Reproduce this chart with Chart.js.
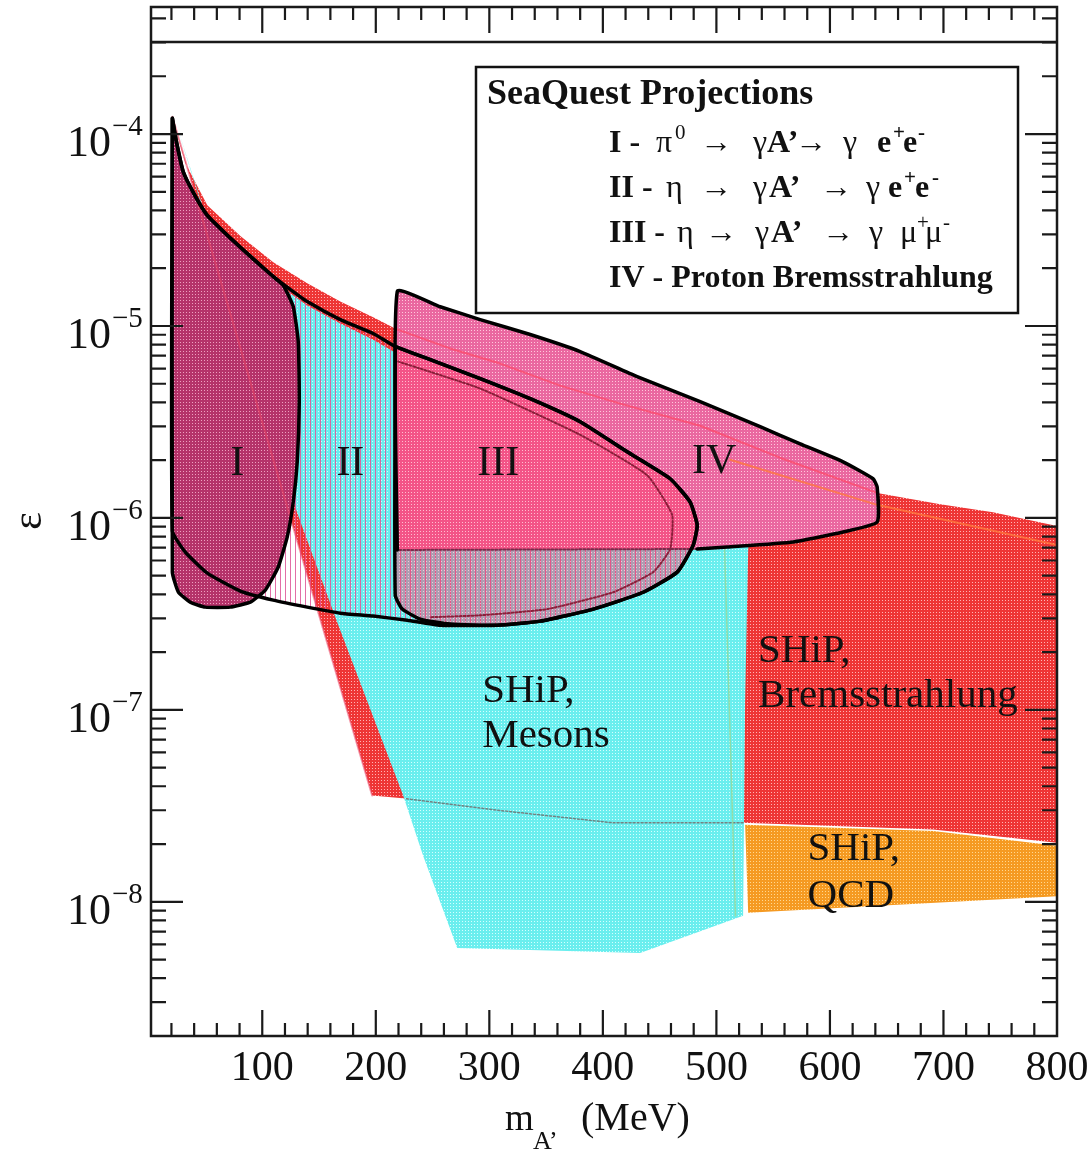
<!DOCTYPE html>
<html>
<head>
<meta charset="utf-8">
<script src="https://cdn.jsdelivr.net/npm/chart.js@4.4.1/dist/chart.umd.min.js"></script>
<style>
html,body{margin:0;padding:0;background:#fff;}
#wrap{width:1092px;height:1153px;}
</style>
</head>
<body>
<div id="wrap"><canvas id="c" width="1092" height="1153"></canvas></div>
<script>
// ---------------- data (x: m_A' in MeV, y: epsilon) ----------------
const brTop = [[20.8,1.23e-4],[32.2,7.06e-5],[51.6,4.26e-5],[80.7,2.94e-5],[109.7,2.15e-5],[139.6,1.67e-5],[168.7,1.34e-5],[197.7,1.11e-5],[218.8,9.6e-6],[265.4,7.64e-6],[309.6,6.37e-6],[362.4,4.89e-6],[415.3,3.94e-6],[485.7,3.02e-6],[556,2.06e-6],[641.6,1.35e-6],[697.2,1.18e-6],[743.6,1.07e-6],[800,9.08e-7]];
const brBottom = [[800,2.03e-8],[690.9,2.38e-8],[523.5,2.58e-8],[409,2.58e-8],[309.6,2.99e-8],[225.9,3.45e-8],[196.8,3.58e-8]];
const mesons = [[26.1,1.04e-4],[51.6,3.52e-5],[80.7,2.39e-5],[109.7,1.71e-5],[139.6,1.28e-5],[168.7,1.03e-5],[197.7,8.49e-6],[218.8,7.17e-6],[265.4,5.64e-6],[309.6,4.55e-6],[362.4,3.49e-6],[415.3,2.55e-6],[468.1,1.91e-6],[529.7,1.37e-6],[528,6.81e-7],[525.3,1.09e-7],[523.5,8.45e-9],[432.8,5.42e-9],[271.7,5.75e-9],[241.7,1.74e-8],[224.1,3.58e-8],[166.0,2.86e-7],[130.8,1.06e-6]];
const qcd = [[525.3,2.52e-8],[690.9,2.34e-8],[800,1.96e-8],[800,1.07e-8],[528,8.77e-9]];
const regionI = [[20.8,1.21e-4],[24.3,9.19e-5],[30.5,6.34e-5],[41.0,4.75e-5],[51.6,3.77e-5],[67.4,3.04e-5],[80.7,2.57e-5],[96.5,2.12e-5],[109.7,1.81e-5],[118.5,1.63e-5],[127.3,1.26e-5],[131.7,8.30e-6],[132.6,4.04e-6],[130.8,1.96e-6],[127.3,1.21e-6],[122.0,7.96e-7],[114.1,5.55e-7],[102.7,4.21e-7],[89.5,3.64e-7],[71.8,3.43e-7],[49.8,3.43e-7],[36.6,3.64e-7],[26.1,4.11e-7],[20.8,5.22e-7]];
const regionIITop = [[20.8,1.21e-4],[24.3,9.19e-5],[30.5,6.34e-5],[41.0,4.75e-5],[51.6,3.77e-5],[67.4,3.04e-5],[80.7,2.57e-5],[96.5,2.12e-5],[109.7,1.81e-5],[124.7,1.55e-5],[139.6,1.34e-5],[168.7,1.08e-5],[197.7,9.14e-6],[217.1,7.82e-6]];
const regionIII = [[217.1,7.82e-6],[248.0,6.68e-6],[292.0,5.32e-6],[336.0,4.18e-6],[380.0,3.17e-6],[421.4,2.21e-6],[459.3,1.60e-6],[476.9,1.21e-6],[483.1,9.18e-7],[479.6,7.22e-7],[465.5,5.22e-7],[435.6,4.10e-7],[391.6,3.35e-7],[344.9,2.90e-7],[307.0,2.76e-7],[265.6,2.80e-7],[239.1,2.97e-7],[223.3,3.35e-7],[217.1,3.96e-7]];
const regionIIBottom = [[256.8,2.76e-7],[227.7,2.93e-7],[197.7,3.08e-7],[168.7,3.19e-7],[139.6,3.43e-7],[109.7,3.73e-7],[80.7,4.16e-7],[51.6,5.16e-7],[32.2,6.64e-7],[20.8,8.55e-7]];
const regionIV = [[218.9,6.81e-7],[218.9,1.51e-5],[256.7,1.26e-5],[291.9,1.08e-5],[336.0,9.03e-6],[380.0,7.36e-6],[430.2,5.45e-6],[485.7,4.04e-6],[538.5,2.99e-6],[573.8,2.43e-6],[611.6,1.96e-6],[638.0,1.60e-6],[641.6,1.45e-6],[641.6,9.53e-7],[611.6,8.45e-7],[567.6,7.50e-7],[509.5,7.06e-7],[483.1,6.89e-7]];
const regionIIIInner = [[219.7,6.53e-6],[292.0,4.72e-6],[380.0,2.71e-6],[439.0,1.67e-6],[461.0,1.04e-6],[459.3,6.89e-7],[444.3,5.22e-7],[409.1,4.10e-7],[351.0,3.35e-7],[292.0,3.11e-7],[248.0,3.04e-7]];
const orangeTrace = [[512.1,2.01e-6],[641.6,1.17e-6],[800,7.23e-7]];
const greenTrace = [[505.4,1.58e-6],[516.8,8.45e-9]];

const xTickLabels = [100,200,300,400,500,600,700,800];
const yTickExponents = [-8,-7,-6,-5,-4];
const topRuleValue = 3e-4;

// ---------------- helpers ----------------
const canvas = document.getElementById('c');
const cctx = canvas.getContext('2d');
const pts = a => a.map(p => ({x:p[0], y:p[1]}));
const closeLoop = a => a.concat([a[0]]);
function dots(base, dot, n){
  n = n || 3;
  const t = document.createElement('canvas'); t.width = n; t.height = n;
  const g = t.getContext('2d');
  g.fillStyle = base; g.fillRect(0,0,n,n);
  g.fillStyle = dot; g.fillRect(0,0,1,1);
  return cctx.createPattern(t,'repeat');
}
function hatch(color, n){
  const t = document.createElement('canvas'); t.width = n; t.height = 2;
  const g = t.getContext('2d');
  g.fillStyle = color; g.fillRect(0,0,1,2);
  return cctx.createPattern(t,'repeat');
}

const bremsShape = brTop.concat(brBottom);
const regionII = regionIITop.concat(regionIII.slice(1,15), regionIIBottom);

function fillDs(label, arr, bg, order, tension){
  return {label, data: pts(arr), fill:'shape', backgroundColor:bg, borderColor:'rgba(0,0,0,0)', borderWidth:0, pointRadius:0, tension: tension||0, order};
}
function lineDs(label, arr, color, width, order, dash, tension){
  return {label, data: pts(arr), fill:false, backgroundColor:'rgba(0,0,0,0)', borderColor:color, borderWidth:width, borderDash: dash||[], pointRadius:0, tension: tension||0, order, borderJoinStyle:'round', borderCapStyle:'round'};
}

const T = 0.15;
const datasets = [
  fillDs('SHiP Bremsstrahlung', bremsShape, dots('#ee3535','#ffb4b4'), 100),
  fillDs('SHiP QCD', qcd, dots('#f59a22','#ffd890'), 99),
  fillDs('SHiP Mesons', mesons, dots('#6aeeee','#d4ffff'), 98),
  lineDs('brems lower edge', brBottom.slice(2,6), 'rgba(110,110,110,0.85)', 1.5, 97, [2,2]),
  lineDs('trace green', greenTrace, 'rgba(150,215,150,0.8)', 1.5, 96),
  fillDs('II', regionII, hatch('rgba(222,85,150,0.85)', 5), 95, T),
  fillDs('I', regionI, dots('#b5336a','#eea0c0'), 94, T),
  lineDs('brems left edge', [brTop[0], brBottom[brBottom.length-1]], 'rgba(235,70,100,0.55)', 2, 93),
  fillDs('IV', regionIV, dots('#ea68a0','#ffc8dc'), 92, T),
  lineDs('brems top trace', brTop.slice(8,16), 'rgba(255,70,100,0.7)', 2, 91),
  lineDs('trace orange', orangeTrace, 'rgba(255,120,60,0.8)', 2, 90),
  fillDs('III', regionIII, dots('rgba(255,60,105,0.45)','rgba(255,225,235,0.6)'), 89, T),
  lineDs('III inner', regionIIIInner, '#8a1f3a', 2, 88, [2,2], T),
  lineDs('IV lower', [regionIV[regionIV.length-1], regionIV[0]], '#7a2a4a', 2, 87, [2,2]),
  lineDs('II outline', closeLoop(regionII), '#000', 3.5, 80, null, T),
  lineDs('I outline', closeLoop(regionI), '#000', 3.5, 79, null, T),
  lineDs('III outline', closeLoop(regionIII), '#000', 3.5, 78, null, T),
  lineDs('IV outline', regionIV, '#000', 3.5, 77, null, T)
];

const textLabels = [
  {t:'I', x:78, y:1.67e-6, align:'center', size:42},
  {t:'II', x:177.6, y:1.67e-6, align:'center', size:42},
  {t:'III', x:307.8, y:1.67e-6, align:'center', size:42},
  {t:'IV', x:498, y:1.71e-6, align:'center', size:42},
  {t:'SHiP,', x:293.7, y:1.10e-7, align:'left', size:41},
  {t:'Mesons', x:293.7, y:6.40e-8, align:'left', size:41},
  {t:'SHiP,', x:536.7, y:1.775e-7, align:'left', size:41},
  {t:'Bremsstrahlung', x:536.7, y:1.035e-7, align:'left', size:41},
  {t:'SHiP,', x:580.3, y:1.65e-8, align:'left', size:41},
  {t:'QCD', x:580.3, y:9.4e-9, align:'left', size:41}
];

const SERIF = '"Liberation Serif", "Times New Roman", serif';
const B32 = 'bold 32px ' + SERIF, R32 = '32px ' + SERIF, BS = 'bold 21px ' + SERIF, RS = '21px ' + SERIF;
const legendTitle = {t:'SeaQuest Projections', x:487, y:104};
const legendLines = [
  {y:152, runs:[['I -',609,B32],['\u03C0',656,R32],['0',675,RS,-13],['\u2192',700,R32],['\u03B3',753,R32],['A\u2019',767,B32],['\u2192',795,R32],['\u03B3',843,R32],['e',877,B32],['+',893,BS,-13],['e',903,B32],['-',918,BS,-13]]},
  {y:197, runs:[['II -',609,B32],['\u03B7',666,R32],['\u2192',700,R32],['\u03B3',753,R32],['A\u2019',769,B32],['\u2192',820,R32],['\u03B3',866,R32],['e',888,B32],['+',904,BS,-13],['e',915,B32],['-',932,BS,-13]]},
  {y:242, runs:[['III -',609,B32],['\u03B7',677,R32],['\u2192',705,R32],['\u03B3',755,R32],['A\u2019',771,B32],['\u2192',822,R32],['\u03B3',869,R32],['\u03BC',900,R32],['+',917,RS,-13],['\u03BC',925,R32],['-',943,RS,-13]]},
  {y:287, runs:[['IV - Proton Bremsstrahlung',609,B32]]}
];

const decor = {
  id:'decor',
  beforeDraw(chart){
    const c = chart.ctx; c.save(); c.fillStyle = '#fff'; c.fillRect(0,0,chart.width,chart.height); c.restore();
  },
  afterDatasetsDraw(chart){
    const c = chart.ctx, a = chart.chartArea, xs = chart.scales.x, ys = chart.scales.y;
    c.save();
    // region labels
    c.fillStyle = '#111'; c.textBaseline = 'alphabetic';
    textLabels.forEach(l => {
      c.font = l.size + 'px ' + SERIF; c.textAlign = l.align;
      c.fillText(l.t, xs.getPixelForValue(l.x), ys.getPixelForValue(l.y));
    });
    // frame
    c.strokeStyle = '#1a1a1a'; c.lineWidth = 2.5;
    c.strokeRect(a.left, a.top, a.right - a.left, a.bottom - a.top);
    const yr = Math.round(ys.getPixelForValue(topRuleValue));
    c.beginPath(); c.moveTo(a.left, yr); c.lineTo(a.right, yr); c.stroke();
    // x ticks
    c.lineWidth = 2.2;
    for (let v = 20; v < 800; v += 20){
      const px = xs.getPixelForValue(v); const L = (v % 100 === 0) ? 26 : 13;
      c.beginPath(); c.moveTo(px, a.bottom); c.lineTo(px, a.bottom - L);
      c.moveTo(px, a.top); c.lineTo(px, a.top + L); c.stroke();
    }
    // y ticks
    for (let e = -9; e <= -4; e++){
      for (let k = 1; k <= 9; k++){
        const v = k * Math.pow(10, e);
        if (v < ys.min || v > ys.max) continue;
        const py = ys.getPixelForValue(v); const L = (k === 1) ? 32 : 15;
        c.beginPath(); c.moveTo(a.left, py); c.lineTo(a.left + L, py);
        c.moveTo(a.right, py); c.lineTo(a.right - L, py); c.stroke();
      }
    }
    // x tick labels
    c.fillStyle = '#111'; c.font = '42px ' + SERIF; c.textAlign = 'center';
    xTickLabels.forEach(v => c.fillText(String(v), xs.getPixelForValue(v), 1080));
    // y tick labels
    yTickExponents.forEach(e => {
      const py = ys.getPixelForValue(Math.pow(10, e));
      c.font = '44px ' + SERIF; c.textAlign = 'right'; c.fillText('10', 111, py + 22);
      c.font = '29px ' + SERIF; c.textAlign = 'left'; c.fillText('\u2212' + Math.abs(e), 112, py + 1);
    });
    // axis titles
    c.textAlign = 'left';
    c.font = '37px ' + SERIF; c.fillText('m', 505, 1130);
    c.font = '26px ' + SERIF; c.fillText('A\u2019', 533, 1149);
    c.font = '40px ' + SERIF; c.fillText('(MeV)', 581, 1130);
    c.save(); c.translate(30, 521); c.rotate(-Math.PI/2);
    c.font = '42px ' + SERIF; c.textAlign = 'center'; c.textBaseline = 'middle';
    c.fillText('\u03B5', 0, 0); c.restore();
    // legend box
    c.fillStyle = '#fff'; c.fillRect(476, 67, 542, 246);
    c.strokeStyle = '#111'; c.lineWidth = 2.5; c.strokeRect(476, 67, 542, 246);
    c.fillStyle = '#111'; c.textAlign = 'left'; c.textBaseline = 'alphabetic';
    c.font = 'bold 36px ' + SERIF; c.fillText(legendTitle.t, legendTitle.x, legendTitle.y);
    legendLines.forEach(line => {
      line.runs.forEach(r => { c.font = r[2]; c.fillText(r[0], r[1], line.y + (r[3] || 0)); });
    });
    c.restore();
  }
};

new Chart(canvas, {
  type: 'line',
  data: { datasets },
  options: {
    responsive: false,
    devicePixelRatio: 1,
    animation: false,
    layout: { padding: { top: 7, right: 35, left: 0, bottom: 0 } },
    plugins: { legend: { display: false }, tooltip: { enabled: false }, filler: { propagate: false } },
    elements: { point: { radius: 0 } },
    scales: {
      x: { type: 'linear', min: 2, max: 800, grid: { display: false }, border: { display: false }, ticks: { display: false },
           afterFit: s => { s.height = 117; } },
      y: { type: 'logarithmic', min: 2e-9, max: 4.59e-4, grid: { display: false }, border: { display: false }, ticks: { display: false },
           afterFit: s => { s.width = 151; } }
    }
  },
  plugins: [decor]
});
</script>
</body>
</html>
